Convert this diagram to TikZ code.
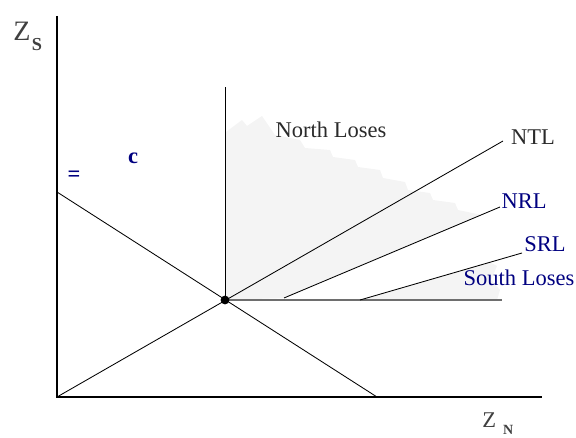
\documentclass[tikz,border=0pt]{standalone}
\usepackage{fontspec}
\setmainfont{Liberation Serif}
\newfontfamily\diagfont{Liberation Serif}
\usetikzlibrary{positioning}
\definecolor{dnavy}{HTML}{000080}
\definecolor{dshade}{HTML}{F4F4F4}
\definecolor{dgray}{HTML}{6E6E6E}
\definecolor{dtext}{HTML}{2A2A2A}
\tikzset{
  lbl/.style={font=\diagfont\fontsize{16}{18}\selectfont, inner sep=0pt, text=dtext},
  blbl/.style={lbl, text=dnavy},
  ln/.style={line width=0.6pt, black},
  axis/.style={line width=0.9pt, black},
  shade/.style={fill=dshade, draw=none},
}

\begin{document}
\begin{tikzpicture}
  \useasboundingbox (-1.425,-1.025) rectangle (12.975,9.925);

  % shaded regions
  \fill[shade] (4.225,2.425) -- (4.225,6.625) -- (4.625,6.925) -- (4.75,6.775)
    -- (5.125,7.025) -- (5.45,6.55) -- (6.075,6.425) -- (6.2,6.225)
    -- (6.825,6.175) -- (6.9,6.0) -- (7.45,5.925) -- (7.525,5.75)
    -- (8.075,5.675) -- (8.15,5.475) -- (8.7,5.375) -- (8.775,5.175)
    -- (9.325,5.1) -- (9.4,4.925) -- (9.95,4.85) -- (10.025,4.675)
    -- (10.625,4.55) -- (5.675,2.475) -- cycle;
  \fill[shade] (7.575,2.425) -- (10.8,3.375) -- (11.0,3.275) -- (10.85,2.925)
    -- (11.075,2.675) -- (11.0,2.425) -- cycle;

  % axes
  \coordinate (O) at (0,0);
  \coordinate (ytop) at (0,9.525);
  \coordinate (xend) at (12.125,0);
  \draw[axis] (ytop) -- (O) -- (xend);
  \node[anchor=base west, font=\diagfont\fontsize{20}{22}\selectfont, inner sep=0pt, text=black!75] (zs) at (-1.1,8.9)
    {Z\hspace{1pt}\raisebox{-7pt}{\fontsize{13}{14}\selectfont\bfseries S}};
  \node[anchor=base west, font=\diagfont\fontsize{16}{18}\selectfont, inner sep=0pt, text=black!75] (zn) at (10.625,-0.775)
    {Z\hspace{5pt}\raisebox{-4.3pt}{\fontsize{10}{12}\selectfont\bfseries N}};

  % equilibrium point and lines through it
  \coordinate (E) at (4.2,2.425);
  \coordinate (vtop) at (4.2,7.75);
  \coordinate (hend) at (11.125,2.425);
  \coordinate (dstart) at (0,5.125);
  \coordinate (dend) at (8.0,0);
  \draw[ln] (E) -- (vtop);
  \draw[ln] (dstart) -- (dend);
  \draw[line width=1pt, dgray] (E) -- (hend);

  % reaction lines
  \coordinate (ntlend) at (11.15,6.4);
  \coordinate (nrlstart) at (5.675,2.475);
  \coordinate (nrlend) at (11.075,4.75);
  \coordinate (srlstart) at (7.575,2.425);
  \coordinate (srlend) at (11.625,3.6);
  \draw[ln] (O) -- (ntlend);
  \draw[ln] (nrlstart) -- (nrlend);
  \draw[ln] (srlstart) -- (srlend);
  \fill[black] (E) circle (0.11cm);

  % labels
  \node[lbl] (ntl) at (11.9,6.5) {NTL};
  \node[blbl] (nrl) at (11.675,4.9) {NRL};
  \node[blbl] (srl) at (12.2,3.825) {SRL};
  \node[blbl] (south) at (11.55,2.975) {South Loses};
  \node[lbl] (north) at (6.85,6.675) {North Loses};
  \node[blbl, font=\diagfont\fontsize{16}{18}\selectfont\bfseries] (cc) at (1.9,5.975) {c};
  \node[blbl, font=\diagfont\fontsize{16}{18}\selectfont\bfseries] (eq) at (0.425,5.525) {=};
\end{tikzpicture}
\end{document}
